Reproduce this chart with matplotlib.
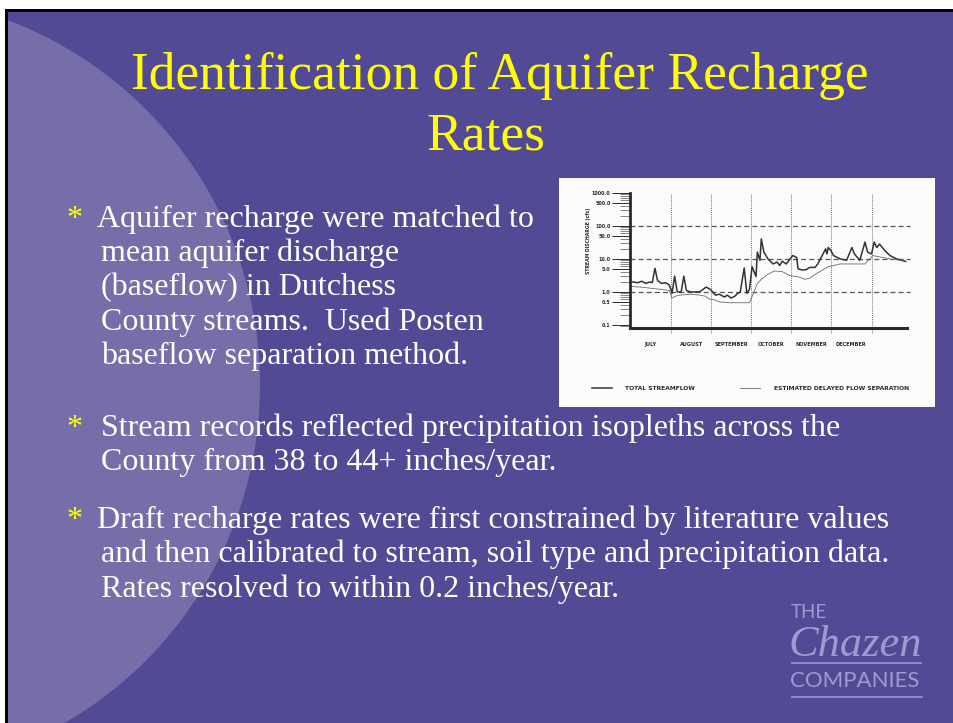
import matplotlib
matplotlib.use("Agg")
import matplotlib.pyplot as plt
from matplotlib.patches import Rectangle, Circle
from matplotlib.lines import Line2D
from matplotlib.ticker import LogLocator, NullFormatter

W, H = 954, 723

# ---------------- text content ----------------
title_lines = ["Identification of Aquifer Recharge", "Rates"]
bullet_1 = ["Aquifer recharge were matched to", "mean aquifer discharge",
            "(baseflow) in Dutchess", "County streams.  Used Posten",
            "baseflow separation method."]
bullet_2 = ["Stream records reflected precipitation isopleths across the",
            "County from 38 to 44+ inches/year."]
bullet_3 = ["Draft recharge rates were first constrained by literature values",
            "and then calibrated to stream, soil type and precipitation data.",
            "Rates resolved to within 0.2 inches/year."]

# ---------------- chart data ----------------
months = ["JULY", "AUGUST", "SEPTEMBER", "OCTOBER", "NOVEMBER", "DECEMBER"]
month_lengths = [31, 31, 30, 31, 30, 31]
ytick_vals = [0.1, 0.5, 1, 5, 10, 50, 100, 500, 1000]
ytick_labels = ["0.1", "0.5", "1.0", "5.0", "10.0", "50.0", "100.0", "500.0", "1000.0"]
series_names = ["TOTAL STREAMFLOW", "ESTIMATED DELAYED FLOW SEPARATION"]

total_day = [2, 6, 9, 12, 15, 17, 19, 21, 24, 27, 29, 30, 32, 34, 36, 39, 41, 43,
             46, 49, 53, 58, 61, 63, 65, 68, 72, 74, 77, 80, 82, 84, 87, 89, 91,
             93, 96, 97, 99, 100, 102, 105, 109, 112, 114, 116, 119, 124, 127,
             128, 131, 134, 137, 141, 143, 147, 149, 150, 151, 153, 155, 160,
             165, 169, 171, 175, 179, 181, 184, 186, 188, 190, 194, 198, 203,
             207, 210]
total_cfs = [2.0, 1.9, 2.1, 1.8, 2.0, 1.9, 5.2, 2.2, 1.8, 1.9, 1.7, 1.6, 0.9, 3.0,
             1.0, 1.0, 3.0, 1.1, 1.0, 1.0, 1.0, 1.4, 1.2, 1.0, 0.8, 0.85, 0.7,
             0.8, 0.65, 0.75, 0.9, 1.0, 5.3, 0.9, 1.2, 5.8, 2.9, 16, 9, 40, 16,
             10, 7, 8, 6.3, 8.5, 7, 12.6, 11, 5, 4.6, 4.7, 5.5, 5.5, 7, 14, 20,
             14, 22, 18, 12.6, 10, 9, 22, 14, 9, 32, 16, 14, 32, 22, 28, 18,
             12.6, 10, 9, 8.3]

delayed_day = [2, 8, 15, 23, 27, 30, 32, 35, 38, 46, 53, 57, 61, 65, 68, 76, 84,
               91, 94, 97, 100, 105, 110, 116, 122, 129, 133, 137, 141, 151, 157,
               160, 179, 185, 190, 198, 210]
delayed_cfs = [1.45, 1.4, 1.3, 1.2, 1.15, 1.1, 0.65, 0.75, 0.8, 0.85, 0.8, 0.75,
               0.6, 0.57, 0.5, 0.47, 0.47, 0.47, 0.9, 1.8, 2.4, 3.4, 4.3, 4.1,
               3.1, 2.8, 2.4, 2.6, 3.4, 5.8, 6.5, 7.0, 7.0, 12.6, 11.5, 10, 8.5]

# ---------------- styling ----------------
PURPLE = "#524a94"
LIGHT = "#756ea9"
YELLOW = "#ffff00"
INK = "#2a2a2a"
LOGO = "#a09ad0"

fig = plt.figure(figsize=(W / 100, H / 100), dpi=100)
fig.patch.set_facecolor("white")

bg = fig.add_axes([0, 0, 1, 1])
bg.set_xlim(0, W)
bg.set_ylim(H, 0)
bg.axis("off")

bg.add_patch(Rectangle((5.5, 9), W, H, facecolor="black", edgecolor="none"))
slide = Rectangle((8.5, 11.8), W, H, facecolor=PURPLE, edgecolor="none")
bg.add_patch(slide)
circ = Circle((-130, 385), 390, facecolor=LIGHT, edgecolor="none")
bg.add_patch(circ)
circ.set_clip_path(slide)

# title
bg.text(500, 89, title_lines[0], fontsize=38.5, family="Liberation Serif",
        color=YELLOW, ha="center", va="baseline")
bg.text(486, 150, title_lines[1], fontsize=38.5, family="Liberation Serif",
        color=YELLOW, ha="center", va="baseline")

# bullets
BFS = 23
def bullet(lines, y0, x_first):
    bg.text(66, y0, "*", fontsize=BFS, family="Liberation Serif", color=YELLOW,
            va="baseline")
    for i, s in enumerate(lines):
        bg.text(x_first if i == 0 else 101, y0 + i * 34.3, s, fontsize=BFS,
                family="Liberation Serif", color="white", va="baseline")

bullet(bullet_1, 227, 97)
bullet(bullet_2, 436, 101)
bullet(bullet_3, 528, 97)

# logo
bg.text(791, 618, "THE", fontsize=13.5, family="Lato", weight="normal",
        color=LOGO, va="baseline")
bg.text(789, 656, "Chazen", fontsize=32, family="Liberation Serif",
        style="italic", color=LOGO, va="baseline")
bg.plot([792, 921], [662.5, 662.5], color=LOGO, lw=1.2)
bg.text(790, 687, "COMPANIES", fontsize=16, family="Lato", weight="normal",
        color=LOGO, va="baseline")
bg.plot([792, 922], [697, 697], color=LOGO, lw=1.2)

# inset white panel
bg.add_patch(Rectangle((559, 178), 376, 229, facecolor="#fbfbf9", edgecolor="none"))

# ---------------- chart ----------------
x0, x1 = 630, 907
ytop, ybot = 192.7, 328
ax = fig.add_axes([x0 / W, 1 - ybot / H, (x1 - x0) / W, (ybot - ytop) / H])
ax.set_facecolor("none")
ax.set_yscale("log")
ax.set_xlim(0, 211)
ax.set_ylim(0.081, 1000)

for s in ["top", "right"]:
    ax.spines[s].set_visible(False)
ax.spines["left"].set_linewidth(2.0)
ax.spines["bottom"].set_linewidth(2.2)
ax.spines["left"].set_color(INK)
ax.spines["bottom"].set_color(INK)

bounds = [0]
for m in month_lengths:
    bounds.append(bounds[-1] + m)
centers = [(bounds[i] + bounds[i + 1]) / 2 for i in range(len(months))]

ax.vlines(bounds[1:], 0.057, 1000, colors="#777777", linestyles=(0, (1, 1)),
          lw=0.7, clip_on=False, zorder=1)
ax.hlines([1, 10, 100], 0, 213, colors="#555555", linestyles=(0, (4, 2.5)),
          lw=0.9, clip_on=False, zorder=1)

ax.plot(total_day, total_cfs, color="#333333", lw=1.1, zorder=3,
        label=series_names[0])
ax.plot(delayed_day, delayed_cfs, color="#6a6a6a", lw=0.6, zorder=3,
        label=series_names[1])

ax.set_yticks(ytick_vals, labels=ytick_labels)
ax.yaxis.set_minor_locator(LogLocator(base=10, subs=[2, 3, 4, 6, 7, 8, 9]))
ax.yaxis.set_minor_formatter(NullFormatter())
ax.tick_params(axis="y", which="major", length=13, width=0.7, color=INK,
               labelsize=3.5, labelcolor=INK, pad=1)
ax.tick_params(axis="y", which="minor", length=7, width=0.5, color="#555555")
for lab in ax.get_yticklabels():
    lab.set_fontweight("bold")

ax.set_xticks(centers, labels=months)
ax.tick_params(axis="x", which="major", length=0, labelsize=3.6,
               labelcolor=INK, pad=10)
for lab in ax.get_xticklabels():
    lab.set_fontweight("bold")

bg.text(588.5, 241, "STREAM DISCHARGE (cfs)", rotation=90, fontsize=3.3,
        weight="bold", color=INK, ha="center", va="center")

handles = [Line2D([], [], color="#333333", lw=1.1),
           Line2D([], [], color="#6a6a6a", lw=0.6)]
fig.legend(handles, series_names, loc="center left",
           bbox_to_anchor=(592 / W, 1 - 388 / H), ncol=2, frameon=False,
           prop={"size": 4.3, "weight": "bold"}, handlelength=3.3,
           handletextpad=2.3, columnspacing=7.5, borderpad=0,
           borderaxespad=0, labelcolor=INK)

fig.savefig("out.png", dpi=100)
